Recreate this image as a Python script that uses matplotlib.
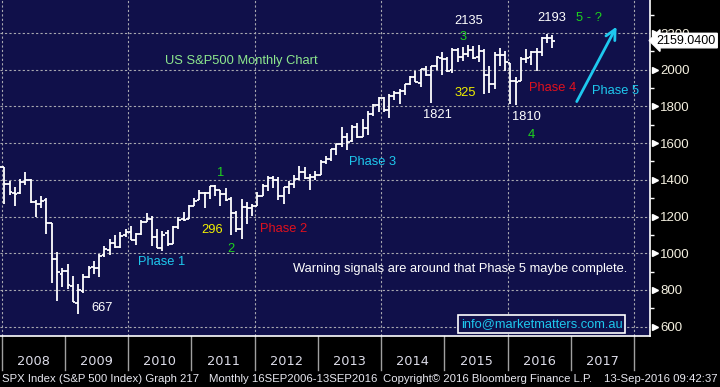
#%% Import packages

import matplotlib.pyplot as plt
import matplotlib.transforms as mtransforms
import numpy as np

#%% Set matplotlib general parameters

plt.rcParams['font.family'] = 'Liberation Sans'
plt.rcParams['font.size'] = 9.3

#%% Monthly SPX data, Dec 2007 - Sep 2016

months = ['2007-12',
          '2008-01', '2008-02', '2008-03', '2008-04', '2008-05', '2008-06', '2008-07', '2008-08', '2008-09', '2008-10', '2008-11', '2008-12',
          '2009-01', '2009-02', '2009-03', '2009-04', '2009-05', '2009-06', '2009-07', '2009-08', '2009-09', '2009-10', '2009-11', '2009-12',
          '2010-01', '2010-02', '2010-03', '2010-04', '2010-05', '2010-06', '2010-07', '2010-08', '2010-09', '2010-10', '2010-11', '2010-12',
          '2011-01', '2011-02', '2011-03', '2011-04', '2011-05', '2011-06', '2011-07', '2011-08', '2011-09', '2011-10', '2011-11', '2011-12',
          '2012-01', '2012-02', '2012-03', '2012-04', '2012-05', '2012-06', '2012-07', '2012-08', '2012-09', '2012-10', '2012-11', '2012-12',
          '2013-01', '2013-02', '2013-03', '2013-04', '2013-05', '2013-06', '2013-07', '2013-08', '2013-09', '2013-10', '2013-11', '2013-12',
          '2014-01', '2014-02', '2014-03', '2014-04', '2014-05', '2014-06', '2014-07', '2014-08', '2014-09', '2014-10', '2014-11', '2014-12',
          '2015-01', '2015-02', '2015-03', '2015-04', '2015-05', '2015-06', '2015-07', '2015-08', '2015-09', '2015-10', '2015-11', '2015-12',
          '2016-01', '2016-02', '2016-03', '2016-04', '2016-05', '2016-06', '2016-07', '2016-08', '2016-09']

opens = [1479,
         1468, 1379, 1330, 1326, 1386, 1400, 1277, 1269, 1288, 1164, 969, 889,
         903, 823, 730, 794, 873, 923, 921, 990, 1020, 1055, 1036, 1099,
         1117, 1074, 1105, 1171, 1189, 1087, 1031, 1108, 1050, 1143, 1186, 1187,
         1258, 1289, 1329, 1329, 1365, 1345, 1321, 1293, 1219, 1131, 1251, 1247,
         1259, 1312, 1366, 1408, 1398, 1310, 1362, 1379, 1407, 1441, 1412, 1416,
         1426, 1498, 1515, 1569, 1598, 1632, 1610, 1689, 1636, 1682, 1759, 1807,
         1846, 1783, 1859, 1874, 1884, 1924, 1962, 1930, 2004, 1971, 2018, 2066,
         2059, 1997, 2105, 2068, 2087, 2109, 2067, 2104, 1970, 1920, 2081, 2083,
         2038, 1937, 1937, 2057, 2067, 2094, 2099, 2173, 2171]

highs = [1524,
         1472, 1396, 1360, 1405, 1440, 1404, 1292, 1313, 1303, 1167, 1008, 919,
         944, 875, 833, 889, 930, 956, 997, 1039, 1080, 1101, 1114, 1130,
         1150, 1112, 1181, 1220, 1205, 1131, 1121, 1129, 1149, 1196, 1227, 1263,
         1303, 1344, 1332, 1365, 1371, 1345, 1356, 1307, 1229, 1293, 1278, 1269,
         1333, 1378, 1419, 1422, 1415, 1363, 1392, 1427, 1475, 1471, 1434, 1448,
         1510, 1531, 1570, 1598, 1687, 1654, 1699, 1710, 1730, 1775, 1814, 1849,
         1851, 1868, 1884, 1897, 1924, 1968, 1991, 2005, 2019, 2018, 2076, 2094,
         2072, 2120, 2118, 2126, 2135, 2130, 2133, 2113, 2021, 2094, 2116, 2104,
         2038, 1963, 2072, 2111, 2103, 2121, 2177, 2193, 2188]

lows = [1436,
        1270, 1317, 1257, 1324, 1373, 1272, 1200, 1249, 1106, 840, 741, 816,
        804, 735, 667, 783, 866, 889, 869, 979, 992, 1029, 1029, 1086,
        1072, 1045, 1101, 1171, 1041, 1028, 1011, 1040, 1048, 1132, 1173, 1187,
        1258, 1289, 1249, 1295, 1312, 1258, 1283, 1102, 1114, 1075, 1159, 1202,
        1259, 1312, 1340, 1357, 1292, 1267, 1325, 1355, 1397, 1403, 1343, 1398,
        1426, 1485, 1501, 1536, 1581, 1560, 1605, 1627, 1633, 1646, 1746, 1768,
        1770, 1738, 1834, 1814, 1860, 1916, 1931, 1905, 1964, 1821, 2001, 1973,
        1988, 1981, 2040, 2048, 2068, 2056, 2044, 1867, 1872, 1894, 2019, 1993,
        1812, 1810, 1937, 2034, 2026, 1992, 2074, 2148, 2119]

closes = [1468,
          1379, 1331, 1323, 1386, 1400, 1280, 1267, 1283, 1166, 969, 896, 903,
          826, 735, 798, 873, 919, 919, 987, 1021, 1057, 1036, 1096, 1115,
          1074, 1104, 1169, 1187, 1089, 1031, 1102, 1049, 1141, 1183, 1181, 1258,
          1286, 1327, 1326, 1364, 1345, 1321, 1292, 1219, 1131, 1253, 1247, 1258,
          1312, 1366, 1408, 1398, 1310, 1362, 1379, 1407, 1441, 1412, 1416, 1426,
          1498, 1515, 1569, 1598, 1631, 1606, 1686, 1633, 1682, 1757, 1806, 1848,
          1783, 1859, 1872, 1884, 1924, 1960, 1931, 2003, 1972, 2018, 2068, 2059,
          1995, 2105, 2068, 2086, 2107, 2063, 2104, 1972, 1920, 2079, 2080, 2044,
          1940, 1932, 2060, 2065, 2097, 2099, 2174, 2171, 2159.04]

last_price = 2159.04
year_labels = ['2008', '2009', '2010', '2011', '2012', '2013', '2014', '2015', '2016', '2017']
price_ticks = [600, 800, 1000, 1200, 1400, 1600, 1800, 2000, 2200]

#%% Colours

navy = '#10104a'
cyan = '#1ec8ee'
red = '#e0101e'
yellow = '#f0f000'
green = '#1ed21e'
footer_col = '#e8e8f0'

#%% Month positions (0 = Jan 2008, bar centred in its month)

x = np.array([(int(m[:4]) - 2008) * 12 + int(m[5:]) - 1 for m in months]) + 0.5

fig = plt.figure(figsize=(7.2, 3.87), dpi=100, facecolor='black')
ax = fig.add_axes([0, 51 / 387, 650 / 720, 336 / 387])
ax.set_facecolor(navy)

# OHLC bars
ax.vlines(x, lows, highs, color='white', linewidth=1.3, zorder=3)
ax.hlines(opens, x - 0.5, x, color='white', linewidth=1.3, zorder=3)
ax.hlines(closes, x, x + 0.5, color='white', linewidth=1.3, zorder=3)

ax.set_xlim(-0.32, 123.0)
ax.set_ylim(549, 2380)

# grid
ax.set_xticks(np.arange(0, 121, 24))
ax.set_yticks(price_ticks)
ax.set_yticks(np.arange(600, 2400, 100), minor=True)
ax.grid(True, which='major', color='#a8a8b0', linestyle=(0, (2, 2)), linewidth=0.8)
ax.set_axisbelow(True)

for s in ['left', 'top']:
    ax.spines[s].set_visible(False)
ax.spines['right'].set_color('white')
ax.spines['bottom'].set_color('white')
ax.spines['right'].set_linewidth(1.2)
ax.spines['bottom'].set_linewidth(1.2)

ax.tick_params(axis='x', length=0, labelbottom=False)
ax.yaxis.tick_right()
ax.tick_params(axis='y', which='major', length=0, pad=7.5, labelcolor='#f4f0e0', labelsize=9.5)
ax.tick_params(axis='y', which='minor', length=3, color='white', width=1)

# triangle pointers on the price axis
tr_y = mtransforms.blended_transform_factory(ax.transAxes, ax.transData)
ax.plot([1.008] * len(price_ticks), price_ticks, linestyle='none', marker='>', markersize=4,
        color='white', transform=tr_y, clip_on=False)

# last price box
ax.text(716 / 650, last_price, '%.4f' % last_price, transform=tr_y, color='black', fontsize=9.0,
        va='center', ha='right', zorder=10, clip_on=False,
        bbox=dict(boxstyle='larrow,pad=0.1', facecolor='white', edgecolor='white'))

#%% Year band under the chart

tr_x = mtransforms.blended_transform_factory(ax.transData, ax.transAxes)
for i in range(len(year_labels) + 1):
    ax.plot([i * 12, i * 12], [0, -0.101], color='#a0a0a0', linewidth=1, transform=tr_x, clip_on=False)
for i, yl in enumerate(year_labels):
    ax.text(i * 12 + 6, -0.077, yl, transform=tr_x, ha='center', va='center', color='#dcdce8',
            fontsize=9.3, family='DejaVu Sans', clip_on=False)

foot_y = 1 - 379 / 387
fig.text(2 / 720, foot_y, 'SPX Index (S&P 500 Index) Graph 217', color=footer_col, fontsize=8.2, va='center')
fig.text(209 / 720, foot_y, 'Monthly 16SEP2006-13SEP2016', color=footer_col, fontsize=8.2, va='center')
fig.text(383 / 720, foot_y, 'Copyright\u00a9 2016 Bloomberg Finance L.P.', color=footer_col, fontsize=8.2, va='center')
fig.text(718 / 720, foot_y, '13-Sep-2016 09:42:37', color=footer_col, fontsize=8.2, va='center', ha='right')

#%% Annotations

ax.text(45.5, 2047, 'US S&P500 Monthly Chart', color='#8ee88e', ha='center', va='center')
ax.text(41.6, 1436, '1', color=green, ha='center', va='center')
ax.text(39.9, 1127, '296', color=yellow, ha='center', va='center')
ax.text(43.5, 1023, '2', color=green, ha='center', va='center')
ax.text(30.4, 951, 'Phase 1', color=cyan, ha='center', va='center')
ax.text(19.0, 703, '667', color='white', ha='center', va='center')
ax.text(53.5, 1132, 'Phase 2', color=red, ha='center', va='center')
ax.text(70.4, 1495, 'Phase 3', color=cyan, ha='center', va='center')
ax.text(88.6, 2266, '2135', color='white', ha='center', va='center')
ax.text(87.5, 2180, '3', color=green, ha='center', va='center')
ax.text(88.0, 1875, '325', color=yellow, ha='center', va='center')
ax.text(82.6, 1753, '1821', color='white', ha='center', va='center')
ax.text(104.4, 2284, '2193', color='white', ha='center', va='center')
ax.text(111.4, 2280, '5 - ?', color=green, ha='center', va='center')
ax.text(104.5, 1902, 'Phase 4', color=red, ha='center', va='center')
ax.text(116.4, 1884, 'Phase 5', color=cyan, ha='center', va='center')
ax.text(99.6, 1742, '1810', color='white', ha='center', va='center')
ax.text(100.5, 1644, '4', color=green, ha='center', va='center')
ax.annotate('', xy=(116.9, 2248), xytext=(108.85, 1813),
            arrowprops=dict(arrowstyle='->', color=cyan, lw=2, mutation_scale=18))
ax.text(87.0, 912, 'Warning signals are around that Phase 5 maybe complete.', color='white',
        ha='center', va='center')
ax.text(102.5, 614, 'info@marketmatters.com.au', color=cyan, ha='center', va='center',
        bbox=dict(boxstyle='square,pad=0.2', facecolor=navy, edgecolor='white', linewidth=1.2))

plt.savefig('out.png', dpi=100, facecolor='black')
